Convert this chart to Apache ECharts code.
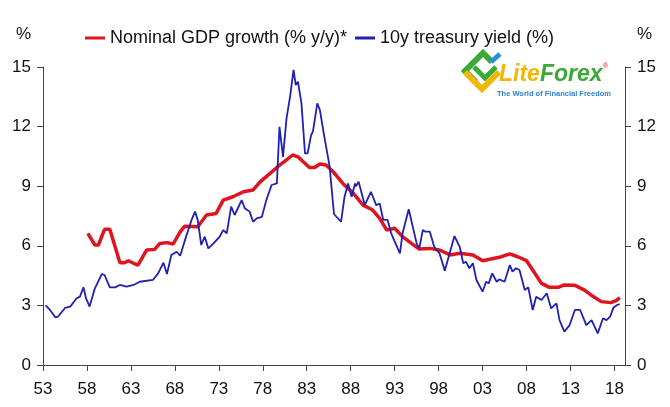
<!DOCTYPE html>
<html>
<head>
<meta charset="utf-8">
<script src="https://cdn.jsdelivr.net/npm/echarts/dist/echarts.min.js"></script>
<style>html,body{margin:0;padding:0;background:#fff;}#c{width:670px;height:407px;}</style>
</head>
<body>
<div id="c"></div>
<script>
// ---- data ----
const seriesNames = ['Nominal GDP growth (% y/y)*', '10y treasury yield (%)'];
const xTickYears = [1953,1958,1963,1968,1973,1978,1983,1988,1993,1998,2003,2008,2013,2018];
const yTicks = [0,3,6,9,12,15];

const gdpYears = [1958.1,1958.9,1959.3,1960.0,1960.6,1961.75,1962.3,1962.7,1963.3,1963.8,1964.8,1965.7,1966.3,1967.1,1967.8,1968.6,1969.1,1970.6,1971.6,1972.7,1973.5,1974.6,1975.8,1976.9,1977.7,1978.6,1979.7,1980.7,1981.4,1982.0,1982.6,1983.3,1983.9,1984.5,1985.2,1986.0,1987.1,1988.3,1989.4,1990.5,1991.3,1992.1,1993.0,1993.9,1994.9,1995.8,1997.0,1998.1,1999.3,2000.4,2001.9,2003.0,2003.8,2004.9,2006.1,2007.0,2008.0,2008.7,2009.7,2010.6,2011.6,2012.3,2013.5,2014.6,2015.5,2016.5,2017.6,2018.2,2018.6];
const gdpValues = [6.63,6.04,6.04,6.83,6.83,5.15,5.15,5.25,5.12,5.03,5.79,5.82,6.12,6.16,6.09,6.7,6.98,6.96,7.55,7.63,8.30,8.47,8.72,8.81,9.22,9.56,9.98,10.32,10.57,10.48,10.23,9.94,9.94,10.12,10.07,9.73,9.14,8.64,8.05,7.80,7.38,6.79,6.88,6.46,6.12,5.84,5.87,5.79,5.54,5.62,5.54,5.25,5.32,5.42,5.59,5.45,5.25,4.78,4.11,3.91,3.91,4.03,4.01,3.77,3.47,3.19,3.14,3.24,3.39];

const yieldYears = [1953.3,1953.8,1954.4,1954.7,1955.5,1956.1,1956.8,1957.2,1957.6,1957.9,1958.3,1958.9,1959.7,1960.0,1960.6,1961.2,1961.75,1962.5,1963.3,1964.0,1965.5,1966.1,1966.7,1967.1,1967.6,1968.2,1968.6,1969.3,1969.9,1970.3,1970.6,1971.0,1971.4,1971.8,1972.4,1973.1,1973.5,1973.9,1974.4,1974.8,1975.6,1975.95,1976.5,1976.9,1977.3,1977.9,1978.4,1979.0,1979.6,1979.9,1980.3,1980.7,1981.1,1981.5,1981.75,1982.0,1982.4,1982.8,1983.1,1983.5,1983.7,1984.2,1984.5,1984.9,1985.2,1985.6,1986.1,1986.9,1987.3,1987.7,1988.1,1988.5,1988.6,1988.9,1989.6,1990.3,1990.9,1991.3,1991.7,1992.2,1992.6,1993.6,1993.9,1994.6,1995.5,1995.8,1996.2,1996.5,1997.0,1997.5,1998.1,1998.7,1999.8,2000.4,2000.8,2001.1,2001.5,2001.9,2002.3,2003.0,2003.4,2003.7,2004.1,2004.6,2004.9,2005.5,2006.1,2006.4,2006.8,2007.2,2007.8,2008.2,2008.7,2009.1,2009.7,2010.3,2010.8,2011.4,2011.75,2012.3,2012.9,2013.5,2014.1,2014.8,2015.4,2016.1,2016.7,2017.1,2017.5,2017.9,2018.3,2018.6];
const yieldValues = [3.0,2.77,2.40,2.43,2.87,2.94,3.35,3.44,3.91,3.35,2.94,3.86,4.58,4.53,3.91,3.91,4.03,3.94,4.03,4.19,4.28,4.61,5.15,4.58,5.54,5.70,5.5,6.5,7.30,7.72,7.30,6.04,6.46,5.87,6.12,6.46,6.79,6.63,7.97,7.55,8.30,7.89,7.72,7.21,7.38,7.46,8.30,9.06,9.14,11.99,10.48,12.41,13.50,14.85,14.09,14.26,13.17,10.65,10.65,11.58,11.74,13.17,12.83,11.74,10.99,10.0,7.6,7.21,8.47,9.14,8.47,9.14,9.0,9.22,8.05,8.72,8.05,8.13,7.30,7.30,6.63,5.62,6.63,7.84,6.12,5.87,6.79,6.71,6.71,5.95,5.62,4.75,6.49,5.95,5.12,5.20,4.87,5.12,4.28,3.69,4.19,4.11,4.61,4.19,4.31,4.19,5.03,4.70,4.87,4.78,3.77,3.91,2.77,3.44,3.27,3.61,2.85,3.10,2.26,1.68,2.01,2.77,2.77,2.01,2.26,1.59,2.35,2.26,2.43,2.90,3.02,3.07];

// ---- chart ----
const FONT = "'Liberation Sans', Arial, sans-serif";
const AX = '#444';
const RED = '#e0141e';
const BLUE = '#2020b4';
const pairs = (xs, ys) => xs.map((x, i) => [x, ys[i]]);

const chart = echarts.init(document.getElementById('c'), null, {renderer: 'canvas'});
const yAxisBase = (pos) => ({
  type: 'value', position: pos, min: yTicks[0], max: yTicks[yTicks.length - 1], interval: 3,
  axisLine: {show: true, lineStyle: {color: AX, width: 1}},
  axisTick: {show: true, length: 6, lineStyle: {color: AX}},
  axisLabel: {color: '#111', fontSize: 17, fontFamily: FONT, margin: 12},
  splitLine: {show: false}
});
chart.setOption({
  animation: false,
  backgroundColor: '#fff',
  textStyle: {fontFamily: FONT},
  grid: {left: 43, right: 45, top: 67, bottom: 42, containLabel: false},
  legend: {
    left: 80, top: 24, itemGap: 8, itemWidth: 20, itemHeight: 3, icon: 'rect',
    textStyle: {fontSize: 18, color: '#111', fontFamily: FONT},
    data: seriesNames
  },
  xAxis: {
    type: 'value', min: 1953, max: 2019.2,
    axisLine: {show: true, lineStyle: {color: AX, width: 1}},
    axisTick: {show: true, length: 6, lineStyle: {color: AX}, customValues: xTickYears},
    axisLabel: {color: '#111', fontSize: 17, fontFamily: FONT, margin: 16, customValues: xTickYears,
      formatter: v => String(Math.round(v) % 100).padStart(2, '0')},
    splitLine: {show: false}
  },
  yAxis: [yAxisBase('left'), yAxisBase('right')],
  graphic: [
    {type: 'text', left: 16, top: 26, style: {text: '%', font: "17px " + FONT, fill: '#111'}},
    {type: 'text', left: 637, top: 26, style: {text: '%', font: "17px " + FONT, fill: '#111'}},
    // logo
    {type: 'polyline', shape: {points: [[476, 82], [465, 71], [483, 53], [492, 62]]}, style: {stroke: '#3aa935', lineWidth: 6, fill: null, lineJoin: 'miter'}},
    {type: 'polyline', shape: {points: [[474, 67], [485, 78], [496, 67]]}, style: {stroke: '#3aa935', lineWidth: 5, fill: null}},
    {type: 'polyline', shape: {points: [[465, 72], [482, 89], [499, 72]]}, style: {stroke: '#f2b705', lineWidth: 6, fill: null}},
    {type: 'line', shape: {x1: 491, y1: 62, x2: 500, y2: 54}, style: {stroke: '#2a8fd8', lineWidth: 5}},
    {type: 'text', left: 499, top: 63, style: {
      text: '{a|Lite}{b|Forex}', rich: {
        a: {fill: '#f2b705', font: "italic bold 23px " + FONT},
        b: {fill: '#3aa935', font: "italic bold 23px " + FONT}
      }}},
    {type: 'text', left: 603, top: 63, style: {text: '®', font: "7px " + FONT, fill: '#e0141e'}},
    {type: 'text', left: 497, top: 90, style: {text: 'The World of Financial Freedom', font: "bold 7.5px " + FONT, fill: '#2a82d2'}}
  ],
  series: [
    {name: seriesNames[0], type: 'line', data: pairs(gdpYears, gdpValues), showSymbol: false, symbol: 'none',
      lineStyle: {color: RED, width: 3.5}, itemStyle: {color: RED}, z: 2},
    {name: seriesNames[1], type: 'line', data: pairs(yieldYears, yieldValues), showSymbol: false, symbol: 'none',
      lineStyle: {color: BLUE, width: 1.8}, itemStyle: {color: BLUE}, z: 3}
  ]
});
</script>
</body>
</html>
